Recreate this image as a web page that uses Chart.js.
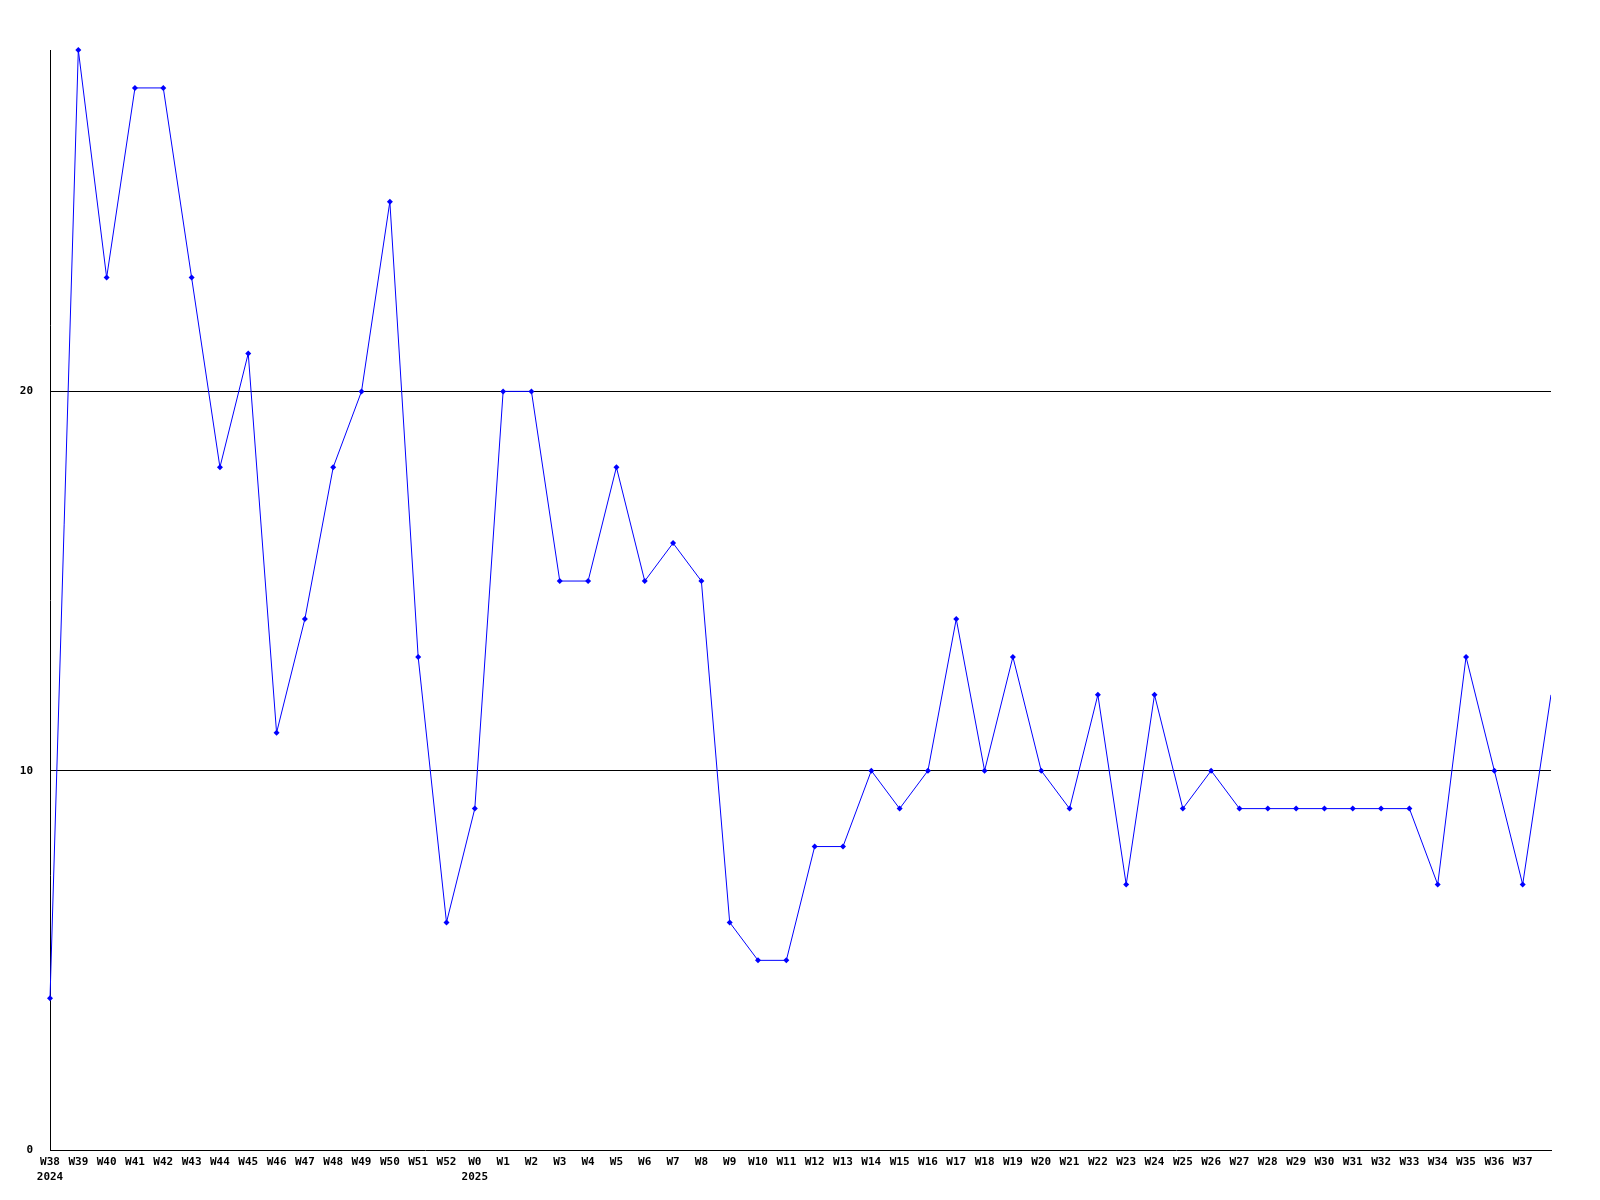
<!DOCTYPE html>
<html>
<head>
<meta charset="utf-8">
<script src="https://cdn.jsdelivr.net/npm/chart.js@4/dist/chart.umd.min.js"></script>
<style>
    body { margin: 0; background: #fff; }
    #wrap { width: 1600px; height: 1200px; }
</style>
</head>
<body>
<div id="wrap"><canvas id="myChart" width="1600" height="1200"></canvas></div>
<script>
const weeks = ["W38", "W39", "W40", "W41", "W42", "W43", "W44", "W45", "W46", "W47", "W48", "W49", "W50", "W51", "W52", "W0",
    "W1", "W2", "W3", "W4", "W5", "W6", "W7", "W8", "W9", "W10", "W11", "W12", "W13", "W14", "W15", "W16", "W17", "W18", "W19", "W20",
    "W21", "W22", "W23", "W24", "W25", "W26", "W27", "W28", "W29", "W30", "W31", "W32", "W33", "W34", "W35", "W36", "W37", ""]
const years = { "W38": "2024", "W0": "2025" }
const counts = [4, 29, 23, 28, 28, 23, 18, 21, 11, 14, 18, 20, 25, 13, 6, 9,
    20, 20, 15, 15, 18, 15, 16, 15, 6, 5, 5, 8, 8, 10, 9, 10, 14, 10, 13, 10,
    9, 12, 7, 12, 9, 10, 9, 9, 9, 9, 9, 9, 9, 7, 13, 10, 7, 12]
const yTicks = [0, 10, 20]

const labels = weeks.map(w => years[w] ? [w, years[w]] : w)
const fontSpec = { family: "'DejaVu Sans Mono', monospace", size: 11, weight: "bold", lineHeight: 1.35 }

const ctx = document.getElementById("myChart").getContext("2d")
new Chart(ctx, {
    type: "line",
    data: {
        labels: labels,
        datasets: [{
            data: counts,
            borderColor: "rgb(0, 0, 255)",
            backgroundColor: "rgb(0, 0, 255)",
            borderWidth: 1,
            pointStyle: "rectRot",
            pointRadius: c => c.dataIndex === counts.length - 1 ? 0 : 3,
            pointBorderWidth: 0,
            tension: 0,
            clip: { left: 5, top: 5, right: 0, bottom: 5 }
        }]
    },
    options: {
        responsive: false,
        animation: false,
        layout: { padding: { top: 50, right: 49, left: 0, bottom: 0 } },
        plugins: { legend: { display: false }, tooltip: { enabled: false } },
        scales: {
            x: {
                offset: false,
                afterFit: s => { s.height = 50 },
                grid: { display: false, drawTicks: false },
                border: { display: true, color: "#000", width: 1 },
                ticks: {
                    color: "#000",
                    font: fontSpec,
                    padding: 5,
                    maxRotation: 0,
                    autoSkip: false
                }
            },
            y: {
                min: 0,
                max: 29,
                afterFit: s => { s.width = 50 },
                afterBuildTicks: s => { s.ticks = yTicks.map(v => ({ value: v })) },
                grid: {
                    drawTicks: false,
                    color: c => c.tick && c.tick.value === 0 ? "rgba(0,0,0,0)" : "#000",
                    lineWidth: 1
                },
                border: { display: true, color: "#000", width: 1 },
                ticks: {
                    color: "#000",
                    font: fontSpec,
                    padding: 17
                }
            }
        }
    }
})
</script>
</body>
</html>
